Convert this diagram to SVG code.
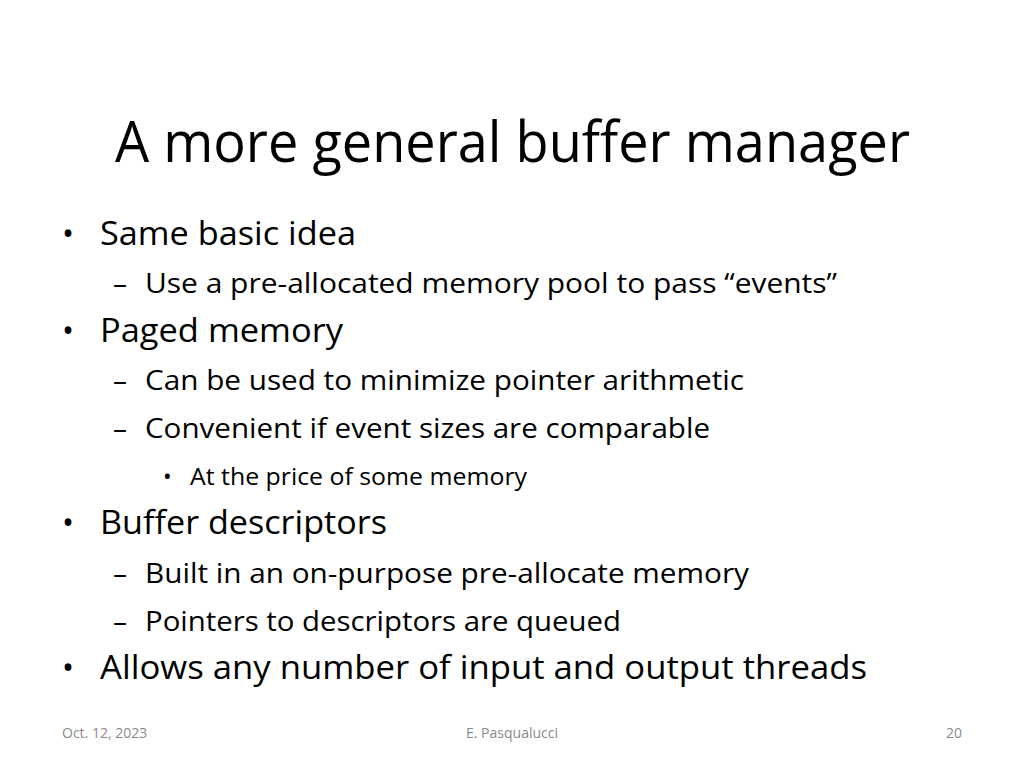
<svg xmlns="http://www.w3.org/2000/svg" width="1024" height="768" viewBox="0 0 1024 768">
<style>
text{font-family:"Open Sans","Liberation Sans",sans-serif;fill:#000}
.t{font-size:56px}
.l1{font-size:32px}
.l2{font-size:28px}
.l3{font-size:23px}
.f{font-size:14px;fill:#898989}
</style>
<rect width="1024" height="768" fill="#fff"/>
<text class="t" x="115" y="162" textLength="795" lengthAdjust="spacingAndGlyphs">A more general buffer manager</text>
<g id="b1"><text class="l1" x="62" y="245">•</text><text class="l1" x="100" y="245" textLength="256" lengthAdjust="spacingAndGlyphs">Same basic idea</text></g>
<g id="b1a"><text class="l2" x="113" y="293">–</text><text class="l2" x="145" y="293" textLength="692" lengthAdjust="spacingAndGlyphs">Use a pre-allocated memory pool to pass “events”</text></g>
<g id="b2"><text class="l1" x="62" y="342">•</text><text class="l1" x="100" y="342" textLength="243" lengthAdjust="spacingAndGlyphs">Paged memory</text></g>
<g id="b2a"><text class="l2" x="113" y="390">–</text><text class="l2" x="145" y="390" textLength="599" lengthAdjust="spacingAndGlyphs">Can be used to minimize pointer arithmetic</text></g>
<g id="b2b"><text class="l2" x="113" y="438">–</text><text class="l2" x="145" y="438" textLength="565" lengthAdjust="spacingAndGlyphs">Convenient if event sizes are comparable</text></g>
<g id="b2b1"><text class="l3" x="163" y="485">•</text><text class="l3" x="190" y="485" textLength="337" lengthAdjust="spacingAndGlyphs">At the price of some memory</text></g>
<g id="b3"><text class="l1" x="62" y="534">•</text><text class="l1" x="100" y="534" textLength="287" lengthAdjust="spacingAndGlyphs">Buffer descriptors</text></g>
<g id="b3a"><text class="l2" x="113" y="583">–</text><text class="l2" x="145" y="583" textLength="604" lengthAdjust="spacingAndGlyphs">Built in an on-purpose pre-allocate memory</text></g>
<g id="b3b"><text class="l2" x="113" y="631">–</text><text class="l2" x="145" y="631" textLength="476" lengthAdjust="spacingAndGlyphs">Pointers to descriptors are queued</text></g>
<g id="b4"><text class="l1" x="62" y="679">•</text><text class="l1" x="100" y="679" textLength="767" lengthAdjust="spacingAndGlyphs">Allows any number of input and output threads</text></g>
<text class="f" x="62" y="738">Oct. 12, 2023</text>
<text class="f" x="512" y="738" text-anchor="middle">E. Pasqualucci</text>
<text class="f" x="962" y="738" text-anchor="end">20</text>
</svg>
